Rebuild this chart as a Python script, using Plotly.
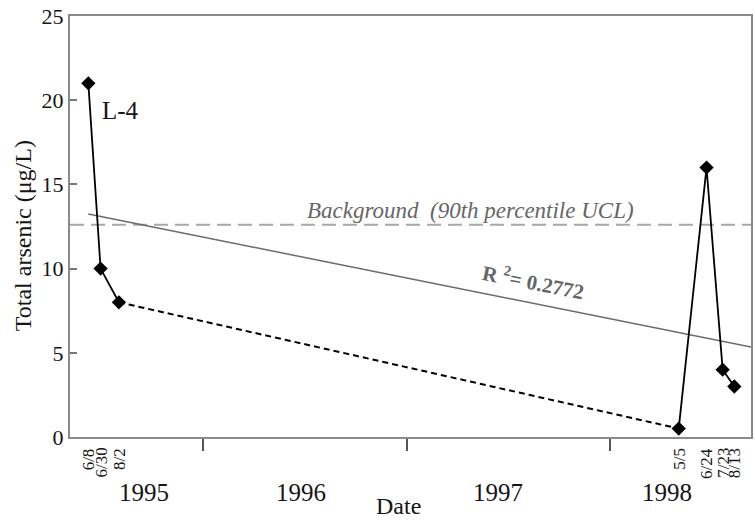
import numpy as np
import pandas as pd
import plotly.graph_objects as go

# ---- data ----
sample_dates = ["1995-06-08", "1995-06-30", "1995-08-02",
                "1998-05-05", "1998-06-24", "1998-07-23", "1998-08-13"]
arsenic = [21, 10, 8, 0.5, 16, 4, 3]
date_labels = ["6/8", "6/30", "8/2", "5/5", "6/24", "7/23", "8/13"]
background_ucl = 12.6
r2_value = "0.2772"
well_name = "L-4"
year_labels = ["1995", "1996", "1997", "1998"]
year_label_dates = ["1995-09-17", "1996-06-25", "1997-06-14", "1998-04-14"]
year_tick_dates = ["1996-01-01", "1997-01-01", "1998-01-01"]
y_ticks = [0, 5, 10, 15, 20, 25]
x_range = ["1995-05-06", "1998-09-12"]

FONT = "Liberation Serif"
TXT = "#151515"

d = pd.to_datetime(sample_dates)
t0 = pd.Timestamp("1995-01-01")
days = np.array([(x - t0).days for x in d], dtype=float)
slope, intercept = np.polyfit(days, np.array(arsenic, dtype=float), 1)
end_day = (pd.Timestamp(x_range[1]) - t0).days
fit_x = [d[0], pd.Timestamp(x_range[1])]
fit_y = [intercept + slope * days[0], intercept + slope * end_day]

fig = go.Figure()

# background UCL line
fig.add_trace(go.Scatter(x=[x_range[0], x_range[1]], y=[background_ucl, background_ucl],
                         mode="lines", line=dict(color="#a8a8a8", width=2, dash="14px,7px"),
                         hoverinfo="skip", showlegend=False))
# regression line
fig.add_trace(go.Scatter(x=fit_x, y=fit_y, mode="lines",
                         line=dict(color="#6a6a6a", width=1.5),
                         hoverinfo="skip", showlegend=False))
# dashed gap segment
fig.add_trace(go.Scatter(x=[d[2], d[3]], y=[arsenic[2], arsenic[3]], mode="lines",
                         line=dict(color="black", width=2, dash="6px,4px"),
                         showlegend=False))
# solid segments with markers
fig.add_trace(go.Scatter(x=list(d[:3]), y=arsenic[:3], mode="lines+markers",
                         line=dict(color="black", width=1.8),
                         marker=dict(symbol="diamond", size=11, color="black"),
                         showlegend=False))
fig.add_trace(go.Scatter(x=list(d[3:]), y=arsenic[3:], mode="lines+markers",
                         line=dict(color="black", width=1.8),
                         marker=dict(symbol="diamond", size=11, color="black"),
                         showlegend=False))

ann = []
for x, lab in zip(d, date_labels):
    ann.append(dict(x=x, y=0, xref="x", yref="paper", text=lab, showarrow=False,
                    textangle=-90, xanchor="center", yanchor="top", yshift=-9,
                    font=dict(family=FONT, size=17, color=TXT)))
for x, lab in zip(year_label_dates, year_labels):
    ann.append(dict(x=x, y=0, xref="x", yref="paper", text=lab, showarrow=False,
                    xanchor="center", yanchor="middle", yshift=-55,
                    font=dict(family=FONT, size=25, color=TXT)))
ann.append(dict(x=0.483, y=0, xref="paper", yref="paper", text="Date", showarrow=False,
                xanchor="center", yanchor="bottom", yshift=-84,
                font=dict(family=FONT, size=24, color=TXT)))
ann.append(dict(x=0, y=0.477, xref="paper", yref="paper", text="Total arsenic (μg/L)",
                showarrow=False, textangle=-90, xanchor="center", yanchor="middle",
                xshift=-47, font=dict(family=FONT, size=24, color=TXT)))
ann.append(dict(x=d[0], y=arsenic[0], xref="x", yref="y", text=well_name, showarrow=False,
                xanchor="left", yanchor="middle", xshift=12, yshift=-27,
                font=dict(family=FONT, size=25, color=TXT)))
ann.append(dict(x=0.588, y=background_ucl, xref="paper", yref="y",
                text="<i>Background  (90th percentile UCL)</i>", showarrow=False,
                xanchor="center", yanchor="bottom", yshift=0,
                font=dict(family=FONT, size=23, color="#666666")))
r2_x = pd.Timestamp("1997-08-17")
r2_y = intercept + slope * (r2_x - t0).days
ann.append(dict(x=r2_x, y=r2_y, xref="x", yref="y",
                text="<b>R <sup>2</sup>= " + r2_value + "</b>", showarrow=False,
                textangle=11, xanchor="center", yanchor="middle", yshift=22,
                font=dict(family=FONT, size=21, color="#666666")))

fig.update_layout(
    width=755, height=523,
    margin=dict(l=70, r=2, t=16, b=86),
    plot_bgcolor="white", paper_bgcolor="white",
    annotations=ann,
    font=dict(family=FONT, color=TXT),
)
fig.update_xaxes(type="date", range=x_range, tickvals=year_tick_dates, ticktext=["", "", ""],
                 ticks="outside", ticklen=12, tickwidth=1.5, tickcolor="#555",
                 showgrid=False, zeroline=False, showline=True, linecolor="#8a8a8a",
                 linewidth=2, mirror=True)
fig.update_yaxes(range=[0, 25], tickvals=y_ticks, ticks="inside", ticklen=7, tickwidth=1.5,
                 tickcolor="#777", showgrid=False, zeroline=False, showline=True,
                 linecolor="#8a8a8a", linewidth=2, mirror=True,
                 tickfont=dict(family=FONT, size=22, color=TXT))

fig.write_html("out.html")
